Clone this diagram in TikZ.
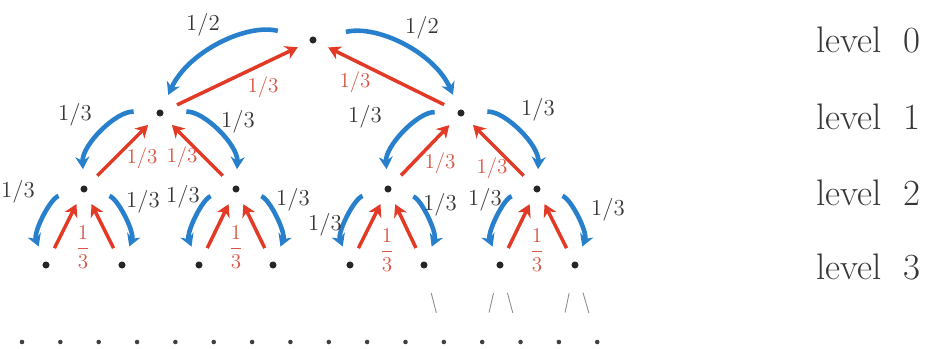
\documentclass[tikz,border=0pt]{standalone}
\usetikzlibrary{arrows.meta}
\definecolor{arcblue}{RGB}{40,128,205}
\definecolor{arcred}{RGB}{226,58,38}
\definecolor{labred}{RGB}{218,84,68}
\definecolor{labgray}{RGB}{55,55,55}

\begin{document}
\begin{tikzpicture}[>={Stealth[length=7pt,width=8pt]}]
    \tikzset{
      vtx/.style={circle, fill=black!85, inner sep=0pt, minimum size=4pt},
      leaf/.style={circle, fill=black!75, inner sep=0pt, minimum size=2.6pt},
      blu/.style={draw=arcblue, line width=2.6pt, ->, shorten <=0.45cm, shorten >=0.32cm},
      rd/.style={draw=arcred, line width=2pt, ->, shorten <=0.3cm, shorten >=0.26cm},
      faint/.style={draw=black!45, line width=0.5pt, shorten <=0.5cm, shorten >=0.55cm},
      wt/.style={text=labgray, font=\fontsize{13}{15}\selectfont},
      rwt/.style={text=labred, font=\fontsize{12}{14}\selectfont},
      lvl/.style={anchor=west, text=labgray, font=\fontsize{21}{25}\selectfont},
    }
    \useasboundingbox (0,0) rectangle (18.92,6.96);

    % the tree
    \node[vtx] (r)  at (6.26,6.16) {};
    \node[vtx] (a)  at (3.20,4.70) {};
    \node[vtx] (b)  at (9.22,4.70) {};
    \node[vtx] (aa) at (1.68,3.18) {};
    \node[vtx] (ab) at (4.72,3.18) {};
    \node[vtx] (ba) at (7.76,3.18) {};
    \node[vtx] (bb) at (10.74,3.18) {};
    \node[vtx] (aaa) at (0.92,1.66) {};
    \node[vtx] (aab) at (2.44,1.66) {};
    \node[vtx] (aba) at (3.98,1.66) {};
    \node[vtx] (abb) at (5.46,1.66) {};
    \node[vtx] (baa) at (7.00,1.66) {};
    \node[vtx] (bab) at (8.48,1.66) {};
    \node[vtx] (bba) at (10.00,1.66) {};
    \node[vtx] (bbb) at (11.50,1.66) {};
    \foreach \i in {0,...,15}
      \node[leaf] (d\i) at ({0.44+0.767*\i},0.12) {};

    % going down
    \draw[blu, shorten <=0.65cm] (r) to[bend right=40] (a);
    \draw[blu, shorten <=0.6cm] (r) to[bend left=40] (b);
    \draw[blu] (a) to[bend right=48] (aa);
    \draw[blu] (a) to[bend left=48] (ab);
    \draw[blu] (b) to[bend right=48] (ba);
    \draw[blu] (b) to[bend left=48] (bb);
    \foreach \p/\l/\q in {aa/aaa/aab, ab/aba/abb, ba/baa/bab, bb/bba/bbb} {
      \draw[blu] (\p) to[bend right=48] (\l);
      \draw[blu] (\p) to[bend left=48] (\q);
    }

    % going up
    \draw[rd] (a) -- (r);
    \draw[rd] (b) -- (r);
    \foreach \p/\l/\q in {a/aa/ab, b/ba/bb, aa/aaa/aab, ab/aba/abb, ba/baa/bab, bb/bba/bbb} {
      \draw[rd] (\l) -- (\p);
      \draw[rd] (\q) -- (\p);
    }

    % level 4, only started
    \draw[faint] (bab) -- (d11);
    \draw[faint] (bba) -- (d12);
    \draw[faint] (bba) -- (d13);
    \draw[faint] (bbb) -- (d14);
    \draw[faint] (bbb) -- (d15);

    % weights
    \node[wt] (w0) at (4.06,6.46) {1/2};
    \node[wt] (w1) at (8.44,6.40) {1/2};
    \node[wt] (w2) at (1.50,4.66) {1/3};
    \node[wt] (w3) at (4.76,4.52) {1/3};
    \node[wt] (w4) at (7.30,4.62) {1/3};
    \node[wt] (w5) at (10.76,4.76) {1/3};
    \node[wt] (w6) at (0.36,3.12) {1/3};
    \node[wt] (w7) at (2.86,2.92) {1/3};
    \node[wt] (w8) at (3.66,3.02) {1/3};
    \node[wt] (w9) at (5.86,2.96) {1/3};
    \node[wt] (w10) at (6.50,2.46) {1/3};
    \node[wt] (w11) at (8.80,2.86) {1/3};
    \node[wt] (w12) at (9.70,2.96) {1/3};
    \node[wt] (w13) at (12.16,2.76) {1/3};

    \node[rwt] (u0) at (5.26,5.22) {1/3};
    \node[rwt] (u1) at (7.10,5.32) {1/3};
    \node[rwt] (u2) at (2.84,3.80) {1/3};
    \node[rwt] (u3) at (3.64,3.82) {1/3};
    \node[rwt] (u4) at (8.80,3.70) {1/3};
    \node[rwt] (u5) at (9.84,3.60) {1/3};
    \node[rwt] (u6) at (1.66,2.02) {$\displaystyle\frac{1}{3}$};
    \node[rwt] (u7) at (4.72,2.02) {$\displaystyle\frac{1}{3}$};
    \node[rwt] (u8) at (7.74,1.96) {$\displaystyle\frac{1}{3}$};
    \node[rwt] (u9) at (10.74,1.96) {$\displaystyle\frac{1}{3}$};

    % levels
    \node[lvl] (l0) at (16.2,6.16) {level~~0};
    \node[lvl] (l1) at (16.2,4.62) {level~~1};
    \node[lvl] (l2) at (16.2,3.10) {level~~2};
    \node[lvl] (l3) at (16.2,1.62) {level~~3};
  \end{tikzpicture}
\end{document}
